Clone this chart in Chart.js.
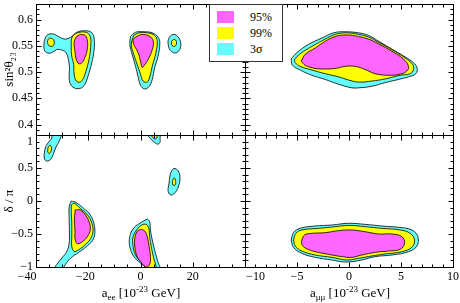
<!DOCTYPE html>
<html>
<head>
<meta charset="utf-8">
<title>contours</title>
<script src="https://cdn.jsdelivr.net/npm/chart.js@4.4.1/dist/chart.umd.min.js"></script>
<style>
  body { margin: 0; background: #fff; }
  #plot { position: relative; width: 460px; height: 303px; overflow: hidden;
          font-family: "Liberation Serif", "DejaVu Serif", serif; color: #000; }
  #plot canvas { position: absolute; left: 0; top: 0; }
  .xtitle { position: absolute; top: 285px; font-size: 13px; line-height: 16px; white-space: nowrap; transform: translateX(-50%); }
  .xtitle .sub { font-size: 9px; position: relative; top: 3px; }
  .xtitle .sup { font-size: 9px; position: relative; top: -5px; }
  #legend { position: absolute; left: 209px; top: 4px; width: 72px; height: 56px; border: 1px solid #333; background: #fff; }
  #legend .row { position: absolute; left: 7px; width: 60px; height: 12px; }
  #legend .sw { position: absolute; left: 0; top: 0; width: 17px; height: 12px; }
  #legend .lab { position: absolute; left: 33px; top: -2px; font-size: 12px; line-height: 16px; }
</style>
</head>
<body>
<div id="plot">
  <canvas id="tl" width="460" height="303"></canvas>
  <canvas id="tr" width="460" height="303"></canvas>
  <canvas id="bl" width="460" height="303"></canvas>
  <canvas id="br" width="460" height="303"></canvas>
  <div class="xtitle" style="left:141px">a<span class="sub">ee</span> [10<span class="sup">-23</span> GeV]</div>
  <div class="xtitle" style="left:350px">a<span class="sub">μμ</span> [10<span class="sup">-23</span> GeV]</div>
  <div id="legend"></div>
</div>
<script>
// tick labels
const aeeTicks = [-40, -20, 0, 20];
const ammTicks = [-10, -5, 0, 5, 10];
const sinTicks = [0.4, 0.45, 0.5, 0.55, 0.6];
const deltaTicks = [-1, -0.5, 0, 0.5, 1];
const levels = ["95%", "99%", "3σ"];

// contour regions, [x, y]
// top left: a_ee vs sin^2 theta23
const tlCyanL = [[-36.9,0.557],[-35.9,0.570],[-33.6,0.573],[-31.4,0.568],[-28.8,0.563],[-26.3,0.568],[-24.4,0.576],[-21.2,0.579],[-18.6,0.575],[-17.7,0.562],[-17.9,0.537],[-19.0,0.511],[-20.3,0.489],[-21.5,0.475],[-23.1,0.469],[-25.4,0.470],[-26.9,0.478],[-27.3,0.492],[-27.2,0.508],[-27.6,0.524],[-28.5,0.537],[-30.1,0.542],[-32.1,0.543],[-34.0,0.537],[-35.9,0.537],[-36.9,0.544]];
const tlYellowL = [[-22.4,0.577],[-20.3,0.575],[-19.2,0.567],[-19.0,0.553],[-19.5,0.530],[-20.5,0.508],[-21.8,0.489],[-23.1,0.481],[-24.6,0.483],[-25.4,0.496],[-25.6,0.515],[-26.3,0.530],[-26.5,0.549],[-26.3,0.565],[-25.0,0.573]];
const tlMagentaL = [[-23.1,0.572],[-21.2,0.570],[-20.3,0.559],[-20.4,0.543],[-21.2,0.529],[-22.4,0.518],[-23.6,0.516],[-24.6,0.524],[-25.1,0.540],[-25.4,0.556],[-24.6,0.567]];
const tlYellowDot = [[-35.6,0.557],[-35.3,0.563],[-34.4,0.565],[-33.3,0.562],[-33.0,0.557],[-33.3,0.551],[-34.4,0.549],[-35.3,0.552]];
const tlCyanM = [[-3.8,0.568],[-1.9,0.576],[1.3,0.577],[4.5,0.575],[6.7,0.567],[7.4,0.556],[6.7,0.530],[5.4,0.508],[4.5,0.486],[3.2,0.472],[1.5,0.468],[0,0.475],[-0.9,0.491],[-1.9,0.511],[-3.2,0.534],[-4.1,0.553]];
const tlYellowM = [[-2.6,0.570],[-0.6,0.575],[2.6,0.575],[5.4,0.570],[6.4,0.559],[5.9,0.537],[4.5,0.511],[3.6,0.492],[2.6,0.481],[1.0,0.483],[0,0.496],[-1.3,0.515],[-2.6,0.534],[-3.5,0.553]];
const tlMagentaM = [[-1.9,0.567],[0.6,0.572],[3.6,0.568],[4.9,0.559],[4.5,0.543],[3.2,0.527],[1.5,0.513],[0.6,0.509],[0,0.521],[-0.9,0.537],[-2.6,0.553],[-2.8,0.562]];
const tlCyanR = [[10.5,0.559],[11.3,0.568],[12.8,0.572],[14.4,0.567],[15.4,0.556],[15.0,0.543],[13.7,0.537],[12.2,0.538],[10.9,0.546]];
const tlYellowR = [[11.9,0.559],[12.6,0.562],[13.5,0.561],[13.8,0.556],[13.5,0.551],[12.6,0.549],[11.9,0.553]];

// top right: a_mumu vs sin^2 theta23
const trCyan = [[-5.56,0.525],[-5.02,0.537],[-3.89,0.553],[-2.61,0.565],[-1.49,0.575],[-0.37,0.577],[0.91,0.575],[1.88,0.570],[2.84,0.559],[4.12,0.544],[5.40,0.529],[6.20,0.518],[6.55,0.508],[6.43,0.497],[5.72,0.491],[4.76,0.486],[3.48,0.480],[2.20,0.473],[0.91,0.470],[0.27,0.470],[-1.01,0.477],[-2.29,0.486],[-3.57,0.494],[-4.70,0.504],[-5.43,0.513]];
const trYellow = [[-5.24,0.524],[-4.70,0.535],[-3.57,0.549],[-2.29,0.563],[-1.33,0.572],[-0.21,0.575],[0.91,0.572],[1.88,0.567],[2.84,0.557],[4.12,0.543],[5.40,0.527],[6.11,0.515],[6.20,0.505],[5.88,0.497],[4.92,0.494],[3.48,0.487],[2.20,0.483],[0.91,0.481],[-0.05,0.485],[-1.01,0.491],[-2.29,0.497],[-3.57,0.504],[-4.70,0.511],[-5.17,0.518]];
const trMagenta = [[-4.60,0.521],[-4.21,0.534],[-3.25,0.546],[-2.29,0.559],[-1.33,0.568],[-0.21,0.571],[0.91,0.568],[1.88,0.563],[2.84,0.554],[4.12,0.540],[5.24,0.525],[5.72,0.511],[5.56,0.502],[4.92,0.496],[3.80,0.494],[2.52,0.497],[1.55,0.505],[0.59,0.511],[-0.37,0.511],[-1.33,0.507],[-2.29,0.506],[-3.25,0.507],[-4.21,0.513]];

// bottom left: a_ee vs delta/pi
const blCyanA = [[-36.9,0.70],[-36.3,0.82],[-35.0,0.90],[-34.0,0.95],[-33.6,1.05],[-30.2,1.05],[-31.0,0.92],[-32.3,0.82],[-33.3,0.72],[-34.4,0.63],[-35.9,0.605],[-36.7,0.635]];
const blYellowA = [[-35.5,0.744],[-35.4,0.809],[-34.7,0.844],[-34.1,0.819],[-34.2,0.759],[-35.0,0.719]];
const blCyanB = [[1.8,1.06],[3.0,0.98],[4.3,0.925],[5.5,0.885],[6.6,0.862],[7.4,0.885],[7.5,0.95],[7.2,1.06]];
const blYellowB = [[3.4,1.06],[4.5,0.975],[5.5,0.94],[6.2,0.955],[6.3,1.06]];
const blCyanC = [[10.9,0.266],[11.5,0.417],[12.8,0.492],[14.4,0.457],[15.1,0.367],[14.7,0.241],[13.5,0.141],[11.8,0.090],[10.6,0.141]];
const blYellowC = [[12.2,0.291],[12.6,0.342],[13.2,0.342],[13.5,0.291],[13.2,0.241],[12.4,0.241]];
const blCyanD = [[-26.5,0.0],[-24.6,-0.025],[-21.8,-0.111],[-19.2,-0.211],[-17.6,-0.387],[-17.9,-0.563],[-20.3,-0.678],[-23.7,-0.779],[-26.7,-0.864],[-28.8,-0.965],[-30.1,-1.05],[-33.3,-1.05],[-32.1,-0.965],[-30.1,-0.864],[-28.2,-0.764],[-27.3,-0.638],[-27.2,-0.487],[-27.3,-0.286],[-27.3,-0.085]];
const blYellowD = [[-26.5,-0.060],[-25.4,-0.035],[-23.1,-0.111],[-20.3,-0.211],[-18.6,-0.337],[-18.2,-0.462],[-19.2,-0.578],[-21.2,-0.663],[-23.7,-0.739],[-25.4,-0.764],[-26.3,-0.688],[-26.3,-0.538],[-26.3,-0.337],[-26.5,-0.186]];
const blMagentaD = [[-25.0,-0.136],[-23.1,-0.136],[-20.8,-0.226],[-19.5,-0.337],[-19.2,-0.437],[-20.3,-0.538],[-22.1,-0.613],[-24.1,-0.648],[-25.0,-0.588],[-25.1,-0.437],[-25.3,-0.286]];
const blCyanE = [[2.6,-0.273],[3.5,-0.313],[3.8,-0.44],[4.5,-0.59],[5.4,-0.74],[6.4,-0.89],[7.4,-1.05],[4.5,-1.07],[2.6,-1.02],[0.0,-0.94],[-2.6,-0.84],[-4.1,-0.69],[-4.1,-0.54],[-2.6,-0.41],[0.0,-0.33]];
const blYellowE = [[2.2,-0.35],[3.1,-0.40],[3.5,-0.54],[4.1,-0.69],[4.9,-0.84],[5.9,-1.05],[3.2,-1.05],[0.6,-0.94],[-1.9,-0.82],[-2.9,-0.67],[-2.8,-0.54],[-1.3,-0.43],[0.6,-0.36]];
const blMagentaE = [[0.0,-0.43],[1.5,-0.45],[2.6,-0.54],[3.3,-0.69],[3.8,-0.84],[3.6,-0.95],[2.3,-1.0],[0.6,-0.95],[-1.3,-0.84],[-2.2,-0.69],[-2.2,-0.57],[-1.3,-0.46]];

// bottom right: a_mumu vs delta/pi
const brCyan = [[-5.56,-0.591],[-5.34,-0.480],[-4.70,-0.414],[-3.25,-0.379],[-1.65,-0.364],[-0.05,-0.338],[1.55,-0.354],[3.16,-0.379],[4.76,-0.399],[6.04,-0.439],[6.62,-0.540],[6.52,-0.682],[5.72,-0.768],[4.12,-0.818],[2.52,-0.843],[0.91,-0.904],[-0.37,-0.924],[-1.65,-0.894],[-3.25,-0.854],[-4.54,-0.793],[-5.34,-0.702]];
const brYellow = [[-5.34,-0.591],[-5.11,-0.490],[-4.54,-0.439],[-2.93,-0.414],[-1.33,-0.389],[-0.05,-0.369],[1.55,-0.389],[3.16,-0.414],[4.92,-0.439],[5.88,-0.490],[6.30,-0.591],[6.04,-0.702],[5.08,-0.768],[3.48,-0.803],[2.20,-0.833],[0.91,-0.869],[-0.21,-0.894],[-1.65,-0.854],[-3.25,-0.818],[-4.54,-0.758],[-5.17,-0.682]];
const brMagenta = [[-4.54,-0.591],[-4.28,-0.515],[-3.57,-0.490],[-2.29,-0.480],[-1.01,-0.449],[0.27,-0.439],[1.55,-0.465],[2.84,-0.500],[4.12,-0.500],[5.08,-0.540],[5.34,-0.641],[4.92,-0.732],[3.80,-0.758],[2.52,-0.778],[1.23,-0.818],[0.27,-0.854],[-0.69,-0.843],[-1.97,-0.808],[-3.25,-0.768],[-4.15,-0.717],[-4.54,-0.657]];

const fillColors = ["#ff66ff", "#ffff00", "#66ffff"];

Chart.defaults.font.family = '"Liberation Serif", "DejaVu Serif", serif';
Chart.defaults.font.size = 12;
Chart.defaults.color = "#000";

// fills each closed line before it is stroked
const shapeFill = {
  id: "shapeFill",
  beforeDatasetDraw(chart, args) {
    const line = args.meta.dataset;
    if (!line || !line.points.length) return;
    const { ctx, chartArea: a } = chart;
    line.updateControlPoints(a, "x");
    ctx.save();
    ctx.beginPath();
    ctx.rect(a.left, a.top, a.right - a.left, a.bottom - a.top);
    ctx.clip();
    ctx.beginPath();
    line.path(ctx);
    ctx.closePath();
    ctx.fillStyle = line.options.backgroundColor;
    ctx.fill();
    ctx.restore();
  }
};

function steps(min, max, step) {
  const out = [];
  for (let k = Math.ceil(min / step - 1e-9); k * step <= max + 1e-9; k++) out.push(k * step);
  return out;
}
const isMultiple = (v, m) => Math.abs(v / m - Math.round(v / m)) < 1e-6;

// frame with inward ticks on all four sides
const frame = {
  id: "frame",
  afterDatasetsDraw(chart, args, o) {
    const { ctx, chartArea: a, scales: { x, y } } = chart;
    const L = a.left + 0.5, R = a.right + 0.5, T = a.top + 0.5, B = a.bottom + 0.5;
    ctx.save();
    ctx.strokeStyle = "#000";
    ctx.lineWidth = 1;
    ctx.beginPath();
    steps(x.min, x.max, o.xMinor).forEach(v => {
      const p = Math.round(x.getPixelForValue(v)) + 0.5;
      const len = isMultiple(v, o.xMajor) ? 5 : 3;
      ctx.moveTo(p, T); ctx.lineTo(p, T + len);
      ctx.moveTo(p, B); ctx.lineTo(p, B - len);
    });
    steps(y.min, y.max, o.yMinor).forEach(v => {
      const p = Math.round(y.getPixelForValue(v)) + 0.5;
      const len = isMultiple(v, o.yMajor) ? 5 : 3;
      ctx.moveTo(L, p); ctx.lineTo(L + len, p);
      ctx.moveTo(R, p); ctx.lineTo(R - len, p);
    });
    ctx.stroke();
    ctx.strokeRect(L, T, a.right - a.left, a.bottom - a.top);
    ctx.restore();
  }
};

const fmt = v => String(v).replace("-", "\u2212");

function axis(min, max, ticks, size, callback, title) {
  return {
    type: "linear", min, max,
    grid: { display: false, drawTicks: false },
    border: { display: false },
    afterBuildTicks: s => { s.ticks = ticks.map(value => ({ value })); },
    ticks: { display: !!callback, padding: 3, autoSkip: false, maxRotation: 0, callback: callback || fmt },
    title: title ? { display: true, text: title, font: { size: 13 }, padding: { top: 2, bottom: 0 } } : { display: false },
    afterFit: s => {
      if (s.isHorizontal()) s.height = size; else s.width = size;
      s.paddingTop = s.paddingBottom = s.paddingLeft = s.paddingRight = 0;
    }
  };
}

function regionSets(regions) {
  return regions.map(([pts, level]) => ({
    data: pts.concat([pts[0]]).map(([x, y]) => ({ x, y })),
    showLine: true,
    tension: 0.4,
    borderColor: "#000",
    borderWidth: 0.8,
    backgroundColor: fillColors[level],
    pointRadius: 0,
    pointHoverRadius: 0,
    order: level
  }));
}

function panel(id, padding, regions, xs, ys, ticksOpt) {
  return new Chart(document.getElementById(id), {
    type: "scatter",
    data: { datasets: regionSets(regions) },
    options: {
      responsive: false,
      animation: false,
      events: [],
      devicePixelRatio: 1,
      layout: { padding },
      plugins: { legend: { display: false }, tooltip: { enabled: false }, frame: ticksOpt },
      scales: { x: xs, y: ys }
    },
    plugins: [shapeFill, frame]
  });
}

const aeeFrame = { xMinor: 5, xMajor: 20 };
const ammFrame = { xMinor: 1, xMajor: 5 };
const sinFrame = { yMinor: 0.01, yMajor: 0.05 };
const deltaFrame = { yMinor: 0.1, yMajor: 0.5 };

panel("tl", { left: 0, top: 4, right: 215, bottom: 168 },
  [[tlCyanL, 2], [tlYellowL, 1], [tlYellowDot, 1], [tlMagentaL, 0],
   [tlCyanM, 2], [tlYellowM, 1], [tlMagentaM, 0], [tlCyanR, 2], [tlYellowR, 1]],
  axis(-40, 40, aeeTicks, 0),
  axis(0.38, 0.63, sinTicks, 36, fmt, "sin²θ₂₃"),
  Object.assign({}, aeeFrame, sinFrame));

panel("tr", { left: 245, top: 4, right: 7, bottom: 168 },
  [[trCyan, 2], [trYellow, 1], [trMagenta, 0]],
  axis(-10, 10, ammTicks, 0),
  axis(0.38, 0.63, sinTicks, 0),
  Object.assign({}, ammFrame, sinFrame));

panel("bl", { left: 0, top: 135, right: 215, bottom: 0 },
  [[blCyanA, 2], [blYellowA, 1], [blCyanB, 2], [blYellowB, 1], [blCyanC, 2], [blYellowC, 1],
   [blCyanD, 2], [blYellowD, 1], [blMagentaD, 0], [blCyanE, 2], [blYellowE, 1], [blMagentaE, 0]],
  axis(-40, 40, aeeTicks, 36, v => v === -40 ? fmt(v) + "      " : v < 0 ? fmt(v) + "  " : fmt(v)),
  axis(-1, 1, deltaTicks, 36, v => v === 1 ? ["", fmt(v)] : fmt(v), "δ / π"),
  Object.assign({}, aeeFrame, deltaFrame));

panel("br", { left: 245, top: 135, right: 7, bottom: 0 },
  [[brCyan, 2], [brYellow, 1], [brMagenta, 0]],
  axis(-10, 10, ammTicks, 36, v => v === -10 ? "       " + fmt(v) : fmt(v)),
  axis(-1, 1, deltaTicks, 0),
  Object.assign({}, ammFrame, deltaFrame));

// legend
const legend = document.getElementById("legend");
levels.forEach((name, i) => {
  const row = document.createElement("div");
  row.className = "row";
  row.style.top = (6 + i * 16) + "px";
  row.innerHTML = '<span class="sw" style="background:' + fillColors[i] + '"></span><span class="lab">' + name + "</span>";
  legend.appendChild(row);
});
</script>
</body>
</html>
